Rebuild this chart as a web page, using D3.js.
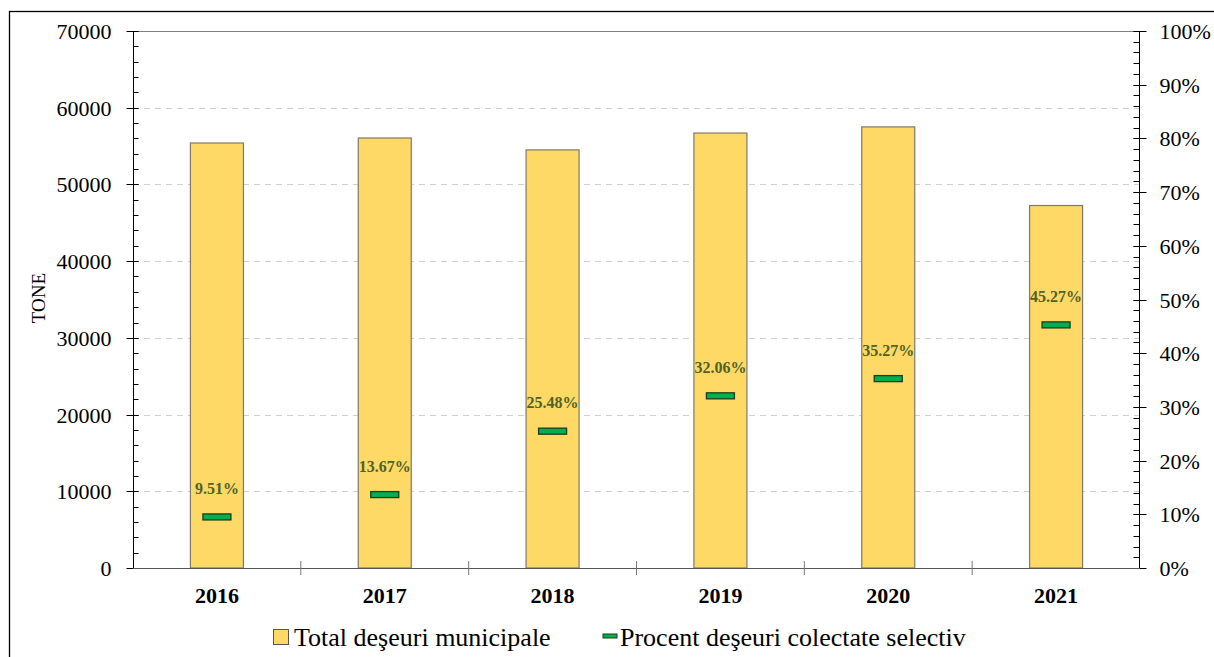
<!DOCTYPE html>
<html><head><meta charset="utf-8">
<script src="https://cdn.jsdelivr.net/npm/d3@7"></script>
<style>body{margin:0;background:#fff}svg{display:block;font-family:"Liberation Serif","Times New Roman",serif}</style>
</head><body>
<svg id="c" width="1214" height="657"></svg>
<script>
const years = ["2016","2017","2018","2019","2020","2021"];
const totalTone = [55400, 56050, 54500, 56700, 57500, 47250];
const pctSelectiv = [9.51, 13.67, 25.48, 32.06, 35.27, 45.27];
const leftTicks = [0,10000,20000,30000,40000,50000,60000,70000];
const rightTicks = [0,10,20,30,40,50,60,70,80,90,100];

const svg = d3.select("#c");
const L = 133, R = 1140, T = 31, B = 568;

// outer frame
svg.append("rect").attr("x",9.5).attr("y",11.5).attr("width",1230).attr("height",700)
  .attr("fill","none").attr("stroke","#000").attr("stroke-width",1.3);

const x = d3.scaleBand().domain(years).range([L,R]);
const y = d3.scaleLinear().domain([0,70000]).range([B,T]);
const y2 = d3.scaleLinear().domain([0,100]).range([B,T]);

// gridlines
svg.append("g").selectAll("line").data(leftTicks.filter(d=>d>0 && d<70000)).join("line")
  .attr("x1",L).attr("x2",R).attr("y1",d=>Math.round(y(d))+0.5).attr("y2",d=>Math.round(y(d))+0.5)
  .attr("stroke","#d0d0d0").attr("stroke-dasharray","6,5");
svg.append("line").attr("x1",L).attr("x2",R).attr("y1",y(70000)+0.5).attr("y2",y(70000)+0.5)
  .attr("stroke","#808080");

// bars
const bw = 53;
svg.append("g").selectAll("rect").data(years).join("rect")
  .attr("x",(d)=>x(d)+x.bandwidth()/2-bw/2)
  .attr("y",(d,i)=>y(totalTone[i]))
  .attr("width",bw).attr("height",(d,i)=>B-y(totalTone[i]))
  .attr("fill","#ffd966").attr("stroke","#7f7a66").attr("stroke-width",1.2);

// left axis
const gl = svg.append("g").attr("transform",`translate(${L+0.5},0)`);
gl.append("line").attr("y1",T).attr("y2",B).attr("stroke","#000");
const minorL = d3.range(0,70001,2000);
gl.selectAll(".mn").data(minorL).join("line").attr("x1",0).attr("x2",5)
  .attr("y1",d=>Math.round(y(d))+0.5).attr("y2",d=>Math.round(y(d))+0.5).attr("stroke","#000");
gl.selectAll(".mj").data(leftTicks).join("line").attr("x1",-7).attr("x2",5)
  .attr("y1",d=>Math.round(y(d))+0.5).attr("y2",d=>Math.round(y(d))+0.5).attr("stroke","#000");
gl.selectAll("text").data(leftTicks).join("text").attr("x",-22).attr("y",d=>y(d)+8)
  .attr("text-anchor","end").attr("font-size",22).attr("fill","#000")
  .text(d=>d);

// right axis
const gr = svg.append("g").attr("transform",`translate(${R-0.5},0)`);
gr.append("line").attr("y1",T).attr("y2",B).attr("stroke","#000");
const minorR = d3.range(0,101,2);
gr.selectAll(".mn").data(minorR).join("line").attr("x1",-6).attr("x2",0)
  .attr("y1",d=>Math.round(y2(d))+0.5).attr("y2",d=>Math.round(y2(d))+0.5).attr("stroke","#000");
gr.selectAll(".mj").data(rightTicks).join("line").attr("x1",-6).attr("x2",7)
  .attr("y1",d=>Math.round(y2(d))+0.5).attr("y2",d=>Math.round(y2(d))+0.5).attr("stroke","#000");
gr.selectAll("text").data(rightTicks).join("text").attr("x",20).attr("y",d=>y2(d)+8)
  .attr("font-size",22).attr("fill","#000")
  .text(d=>d+"%");

// x axis
svg.append("line").attr("x1",L).attr("x2",R).attr("y1",B+0.5).attr("y2",B+0.5).attr("stroke","#555").attr("stroke-width",1.2);
svg.append("g").selectAll("line").data(years.slice(1)).join("line")
  .attr("x1",d=>x(d)).attr("x2",d=>x(d)).attr("y1",B-7).attr("y2",B+7).attr("stroke","#777");
svg.append("g").selectAll("text").data(years).join("text")
  .attr("x",d=>x(d)+x.bandwidth()/2).attr("y",603).attr("text-anchor","middle")
  .attr("font-weight","bold").attr("font-size",22).text(d=>d);

// percent markers
const mw = 28, mh = 6;
svg.append("g").selectAll("rect").data(years).join("rect")
  .attr("x",d=>x(d)+x.bandwidth()/2-mw/2).attr("y",(d,i)=>y2(pctSelectiv[i])-mh/2)
  .attr("width",mw).attr("height",mh).attr("fill","#00b050").attr("stroke","#1e3a1e").attr("stroke-width",1.3);
svg.append("g").selectAll("text").data(years).join("text")
  .attr("x",d=>x(d)+x.bandwidth()/2).attr("y",(d,i)=>y2(pctSelectiv[i])-23)
  .attr("text-anchor","middle").attr("font-weight","bold").attr("font-size",16)
  .attr("fill","#4f6228").text((d,i)=>pctSelectiv[i].toFixed(2)+"%");

// y title
svg.append("text").attr("transform","translate(45,298) rotate(-90)").attr("text-anchor","middle")
  .attr("font-size",19).text("TONE");

// legend
svg.append("rect").attr("x",273.5).attr("y",629.5).attr("width",15).attr("height",15)
  .attr("fill","#ffd966").attr("stroke","#555");
svg.append("text").attr("x",294).attr("y",646).attr("font-size",26).text("Total deşeuri municipale");
svg.append("rect").attr("x",603).attr("y",634).attr("width",14).attr("height",4)
  .attr("fill","#00b050").attr("stroke","#1e3a1e").attr("stroke-width",1);
svg.append("text").attr("x",620).attr("y",646).attr("font-size",26).text("Procent deşeuri colectate selectiv");
</script>
</body></html>
